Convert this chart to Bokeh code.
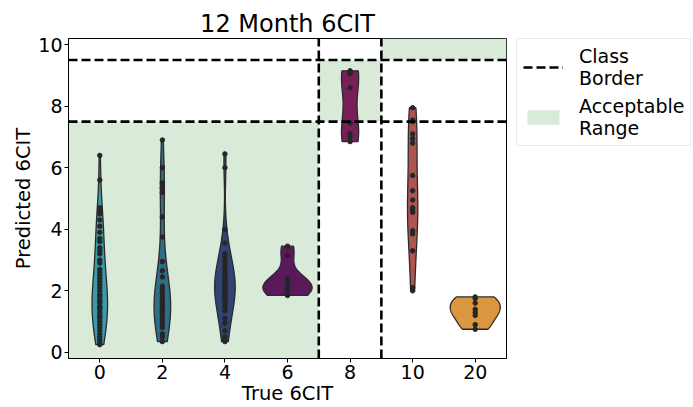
import numpy as np
from bokeh.plotting import figure
from bokeh.layouts import row
from bokeh.models import Legend, LegendItem, FixedTicker
from bokeh.embed import file_html
from bokeh.resources import INLINE

# True 6CIT classes (category order on the x axis)
categories = ["0", "2", "4", "6", "8", "10", "20"]

# Predicted 6CIT scores per true class
pred_0 = [6.4, 5.6, 4.7, 4.6, 4.5, 4.3, 4.1, 3.9, 3.7, 3.6, 3.4, 3.3, 3.2, 3.0,
          2.9, 2.7, 2.6, 2.5, 2.4, 2.3, 2.2, 2.1, 2.0, 1.9, 1.85, 1.8, 1.7,
          1.65, 1.6, 1.5, 1.45, 1.4, 1.3, 1.2, 1.15, 1.1, 1.0, 0.9, 0.8, 0.7,
          0.6, 0.5, 0.4, 0.3, 0.25]
pred_2 = [6.9, 6.0, 5.5, 5.35, 5.2, 4.4, 3.75, 2.95, 2.65, 2.45, 2.15, 2.05,
          1.95, 1.9, 1.8, 1.7, 1.65, 1.6, 1.5, 1.45, 1.4, 1.35, 1.3, 1.2, 1.1,
          1.0, 0.9, 0.8, 0.6, 0.5, 0.35]
pred_4 = [6.45, 6.0, 4.0, 3.55, 3.2, 3.1, 3.0, 2.9, 2.8, 2.7, 2.6, 2.5, 2.45,
          2.4, 2.3, 2.25, 2.2, 2.1, 2.05, 2.0, 1.95, 1.9, 1.8, 1.75, 1.7, 1.6,
          1.5, 1.45, 1.35, 1.1, 0.95, 0.7, 0.5, 0.4, 0.35]
pred_6 = [3.45, 3.15, 2.4, 2.3, 2.2, 2.15, 2.05, 2.0, 1.9, 1.85]
pred_8 = [9.15, 9.1, 9.05, 8.6, 7.45, 7.1, 7.0, 6.85]
pred_10 = [7.95, 7.55, 7.5, 7.1, 6.95, 6.8, 5.75, 5.25, 4.95, 4.7, 4.6, 4.55,
           3.95, 3.85, 3.3, 2.1, 2.0]
pred_20 = [1.8, 1.75, 1.6, 1.4, 1.3, 1.2, 0.9, 0.75]

groups = [pred_0, pred_2, pred_4, pred_6, pred_8, pred_10, pred_20]
colors = ["#3a9aa8", "#2e6e88", "#2f4472", "#5a1a5a", "#771f56", "#b05452", "#db973f"]

# Class borders and acceptable prediction ranges
x_borders = [3.5, 4.5]
y_borders = [7.5, 9.5]
ok_left = [-0.5, 3.5, 4.5]
ok_right = [3.5, 4.5, 6.5]
ok_bottom = [-0.2, 7.5, 9.5]
ok_top = [7.5, 9.5, 10.2]

X_RANGE = (-0.5, 6.5)
Y_RANGE = (-0.2, 10.2)
FONT = "DejaVu Sans"
GREEN = "#d9ebd8"
BORDER_STYLE = dict(line_color="black", line_width=2.6, line_dash="9 4")


def kde(values, grid):
    v = np.asarray(values, dtype=float)
    bw = v.std(ddof=1) * len(v) ** (-1 / 5)
    z = (grid[:, None] - v[None, :]) / bw
    return np.exp(-0.5 * z ** 2).sum(axis=1) / (len(v) * bw * np.sqrt(2 * np.pi))


# densities clipped to the data range; common scaling gives equal areas
grids, dens = [], []
for vals in groups:
    g = np.linspace(min(vals), max(vals), 100)
    grids.append(g)
    dens.append(kde(vals, g))
peak = max(d.max() for d in dens)
half_width = 0.4

p = figure(width=507, height=407, output_backend="svg", toolbar_location=None,
           x_range=X_RANGE, y_range=Y_RANGE,
           min_border_left=68, min_border_right=1, min_border_top=38,
           min_border_bottom=49)
p.title.text = "12 Month 6CIT"
p.title.align = "center"
p.title.text_font = FONT
p.title.text_font_size = "24px"
p.title.text_font_style = "normal"
p.title.text_color = "black"
p.title.standoff = 2

p.quad(left=ok_left, right=ok_right, bottom=ok_bottom, top=ok_top,
       fill_color=GREEN, line_color=None)

for i, (g, d, vals, c) in enumerate(zip(grids, dens, groups, colors)):
    w = d / peak * half_width
    xs = np.concatenate([i - w, (i + w)[::-1]])
    ys = np.concatenate([g, g[::-1]])
    p.patch(xs, ys, fill_color=c, line_color="#2b2b2b", line_width=1.3)
    p.scatter(np.full(len(vals), i), vals, size=4.5, color="#262626")

bx0 = [x_borders[0], x_borders[1], X_RANGE[0], X_RANGE[0]]
bx1 = [x_borders[0], x_borders[1], X_RANGE[1], X_RANGE[1]]
by0 = [Y_RANGE[0], Y_RANGE[0], y_borders[0], y_borders[1]]
by1 = [Y_RANGE[1], Y_RANGE[1], y_borders[0], y_borders[1]]
p.segment(x0=bx0, y0=by0, x1=bx1, y1=by1, **BORDER_STYLE)

p.xaxis.ticker = FixedTicker(ticks=list(range(len(categories))))
p.xaxis.major_label_overrides = {i: c for i, c in enumerate(categories)}
p.yaxis.ticker = FixedTicker(ticks=[0, 2, 4, 6, 8, 10])
p.xaxis.axis_label = "True 6CIT"
p.yaxis.axis_label = "Predicted 6CIT"
for ax in (p.xaxis, p.yaxis):
    ax.axis_label_text_font = FONT
    ax.axis_label_text_font_size = "19.5px"
    ax.axis_label_text_font_style = "normal"
    ax.axis_label_text_color = "black"
    ax.major_label_text_font = FONT
    ax.major_label_text_font_size = "19px"
    ax.major_label_text_color = "black"
    ax.axis_line_color = "black"
    ax.major_tick_line_color = "black"
    ax.major_tick_out = 4
    ax.major_tick_in = 0
    ax.minor_tick_line_color = None
    ax.major_label_standoff = 2
    ax.axis_label_standoff = 0
p.grid.visible = False
p.outline_line_color = "black"
p.outline_line_width = 1

# legend panel to the right of the plot; its key glyphs sit outside its view
lg = figure(width=186, height=407, output_backend="svg", toolbar_location=None,
            x_range=(0, 1), y_range=(0, 1),
            x_axis_location=None, y_axis_location=None,
            min_border_left=9, min_border_right=0, min_border_top=37,
            min_border_bottom=0, outline_line_color=None)
lg.grid.visible = False
border_key = lg.segment(x0=[5], y0=[5], x1=[6], y1=[5], **BORDER_STYLE)
range_key = lg.quad(left=[5], right=[6], bottom=[5], top=[6], fill_color=GREEN,
                    line_color=None)
legend = Legend(items=[LegendItem(label="Class\nBorder", renderers=[border_key]),
                       LegendItem(label="Acceptable\nRange", renderers=[range_key])],
                location="top_left", margin=0, label_text_font=FONT,
                label_text_font_size="19px", label_text_color="black",
                glyph_width=40, glyph_height=18,
                label_standoff=16, padding=6, spacing=6,
                border_line_color="#d6d6d6", border_line_width=1,
                background_fill_alpha=1)
lg.add_layout(legend, "center")

open("out.html", "w").write(file_html(row(p, lg), INLINE))
